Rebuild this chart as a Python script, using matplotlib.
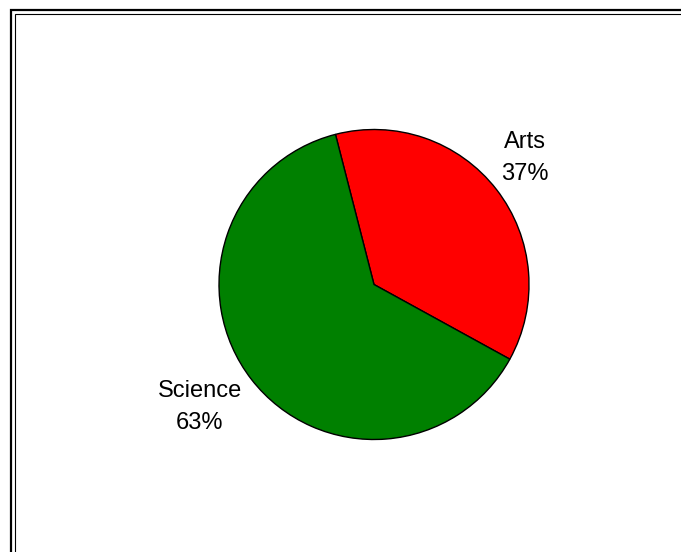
import matplotlib
matplotlib.use("Agg")
import numpy as np
import matplotlib.pyplot as plt
from matplotlib.patches import Rectangle

labels = ["Arts", "Science"]
values = [37, 63]
colors = ["#ff0000", "#008000"]

W, H = 681, 552
fig = plt.figure(figsize=(W / 100, H / 100), dpi=100)
plt.rcParams['font.family'] = ['Liberation Sans', 'DejaVu Sans']

# pie placed in pixel terms
cx, cy, r = 374, 284.5, 155
ax = fig.add_axes([(cx - r) / W, (H - cy - r) / H, 2 * r / W, 2 * r / H])
wedges, _ = ax.pie(values, colors=colors, startangle=104.4, counterclock=False,
                   wedgeprops=dict(edgecolor="black", linewidth=1.0))

# labels sit at slightly different spots around the wedge middle
dists = [1.27, 1.373]
nudges = [2.2, -2.7]
for w, lab, v, d, n in zip(wedges, labels, values, dists, nudges):
    ang = np.deg2rad((w.theta1 + w.theta2) / 2 + n)
    ax.text(d * np.cos(ang), d * np.sin(ang), f"{lab}\n{v}%", fontsize=17,
            ha="center", va="center", linespacing=1.6)

ax.set_xlim(-1, 1)
ax.set_ylim(-1, 1)
ax.set_aspect("auto")
ax.axis("off")

# double frame, running off the right/bottom edges
for x, y, lw in [(11, 10, 1.6), (14.5, 13.5, 0.8)]:
    fig.add_artist(Rectangle((x / W, -0.1), 1.2, (H - y) / H + 0.1,
                             transform=fig.transFigure, fill=False,
                             edgecolor="black", linewidth=lw))

fig.savefig("out.png", dpi=100)
